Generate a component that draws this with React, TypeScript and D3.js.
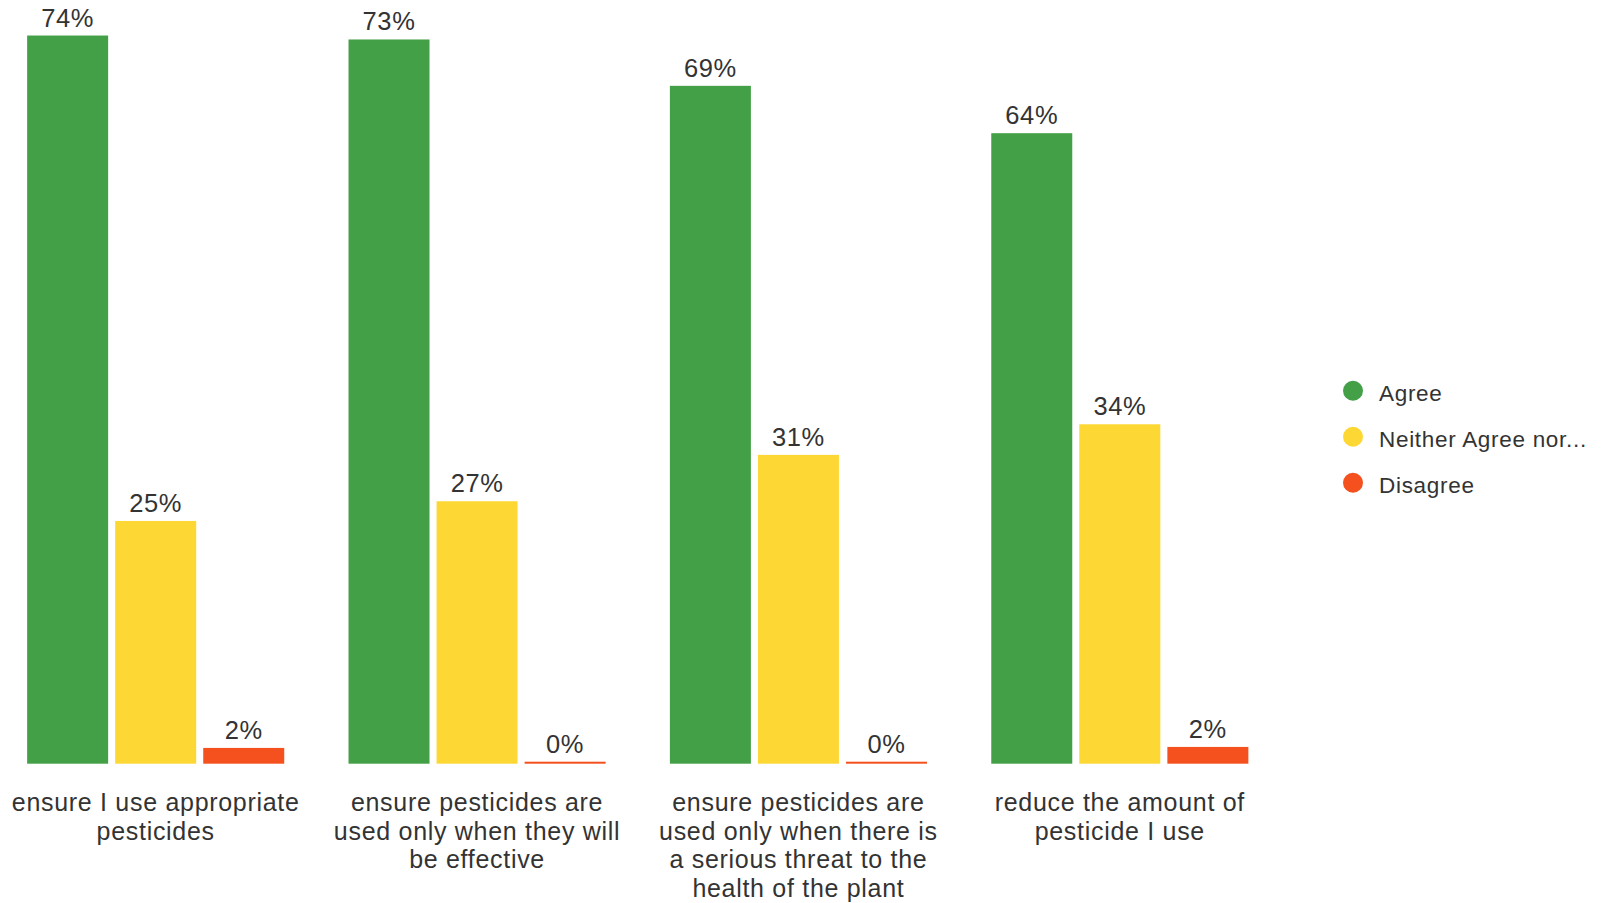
import React from "react";
import * as d3 from "d3";

const categories: string[][] = [
  ["ensure I use appropriate", "pesticides"],
  ["ensure pesticides are", "used only when they will", "be effective"],
  ["ensure pesticides are", "used only when there is", "a serious threat to the", "health of the plant"],
  ["reduce the amount of", "pesticide I use"],
];
const seriesNames = ["Agree", "Neither Agree nor...", "Disagree"];
const seriesColors = ["#43a047", "#fdd835", "#f4511e"];
const agree = [73.8, 73.4, 68.7, 63.9];
const neither = [24.6, 26.6, 31.3, 34.4];
const disagree = [1.6, 0, 0, 1.7];
const seriesValues = [agree, neither, disagree];

const W = 1604;
const H = 903;
const FONT = "'Liberation Sans', Arial, sans-serif";
const TEXT = "#333333";

export default function App() {
  const groupIdx = categories.map((_, i) => i);
  const x0 = d3.scaleBand<number>().domain(groupIdx).range([-5, 1280.5]).paddingInner(0.2).paddingOuter(0.1);
  const x1 = d3.scaleBand<number>().domain([0, 1, 2]).range([0, x0.bandwidth()]).paddingInner(0.08).paddingOuter(0);
  const y = d3.scaleLinear().domain([0, 77.4]).range([763.7, 0]);
  const base = y(0);

  return (
    <svg width={W} height={H} style={{ position: "absolute", left: 0, top: 0, background: "#fff" }} fontFamily={FONT}>
      {groupIdx.map((g) => (
        <g key={g} transform={`translate(${x0(g)},0)`}>
          {seriesValues.map((vals, s) => {
            const v = vals[g];
            const top = Math.min(y(v), base - 2);
            const bx = x1(s)!;
            return (
              <g key={s}>
                <rect x={bx} y={top} width={x1.bandwidth()} height={base - top} fill={seriesColors[s]} />
                <text x={bx + x1.bandwidth() / 2} y={top - 9} textAnchor="middle" fontSize={25.5} fill={TEXT} letterSpacing={0.6}>
                  {d3.format(".0f")(v) + "%"}
                </text>
              </g>
            );
          })}
          {categories[g].map((line, li) => (
            <text key={li} x={x0.bandwidth() / 2} y={811 + li * 28.5} textAnchor="middle" fontSize={25} fill={TEXT} letterSpacing={0.7}>
              {line}
            </text>
          ))}
        </g>
      ))}
      {seriesNames.map((name, i) => (
        <g key={name} transform={`translate(1353,${390.7 + i * 46})`}>
          <circle r={10} fill={seriesColors[i]} />
          <text x={26} y={10} fontSize={22.5} fill={TEXT} letterSpacing={0.7}>{name}</text>
        </g>
      ))}
    </svg>
  );
}
